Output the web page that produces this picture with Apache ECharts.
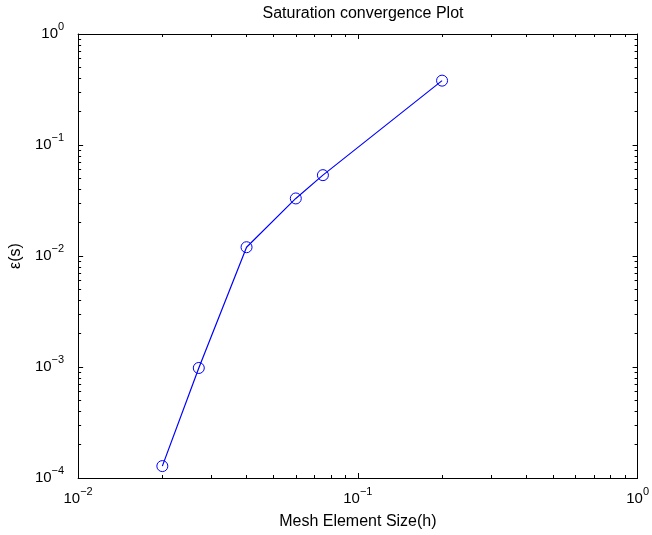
<!DOCTYPE html>
<html>
<head>
<meta charset="utf-8">
<script src="https://cdn.jsdelivr.net/npm/echarts@6/dist/echarts.min.js"></script>
<style>
  html, body { margin: 0; padding: 0; background: #fff; }
  #chart { width: 652px; height: 535px; }
</style>
</head>
<body>
<div id="chart"></div>
<script>
// mesh size h and saturation error
var meshSize = [0.02, 0.027, 0.04, 0.06, 0.075, 0.2];
var satError = [0.000128, 0.00098, 0.012, 0.033, 0.0535, 0.38];

var xMajor = [0.01, 0.1, 1];
var yMajor = [0.0001, 0.001, 0.01, 0.1, 1];

function minorsOf(decades) {
  var out = [];
  for (var i = 0; i < decades.length - 1; i++) {
    for (var k = 2; k <= 9; k++) out.push(+(decades[i] * k).toPrecision(3));
  }
  return out;
}
var xMinor = minorsOf(xMajor);
var yMinor = minorsOf(yMajor);

var font = 'Liberation Sans, Arial, Helvetica, sans-serif';

function expLabel(v) {
  var e = Math.round(Math.log10(v));
  return '{b|10}{s|' + (e < 0 ? '\u2212' + (-e) : e) + '}';
}
var labelRich = {
  b: { fontSize: 15, fontFamily: font, color: '#000', lineHeight: 26 },
  s: { fontSize: 11, fontFamily: font, color: '#000', lineHeight: 12, verticalAlign: 'top' }
};

function makeAxis(pos, extent, major, minor, isMain, isMinor) {
  var ax = {
    type: 'log',
    logBase: 10,
    position: pos,
    min: extent[0],
    max: extent[1],
    splitLine: { show: false },
    minorTick: { show: false },
    axisLine: { show: !isMinor, onZero: false, lineStyle: { color: '#000', width: 1 } },
    axisTick: {
      show: true,
      inside: true,
      length: isMinor ? 3 : 5,
      customValues: isMinor ? minor : major,
      lineStyle: { color: '#000', width: 1 }
    },
    axisLabel: { show: false }
  };
  if (isMain) {
    ax.axisLabel = {
      show: true,
      customValues: major,
      formatter: expLabel,
      rich: labelRich,
      margin: (pos === 'bottom') ? 8 : 14
    };
  }
  return ax;
}

var xExt = [0.01, 1];
var yExt = [0.0001, 1];

var xAxes = [
  makeAxis('bottom', xExt, xMajor, xMinor, true, false),
  makeAxis('bottom', xExt, xMajor, xMinor, false, true),
  makeAxis('top', xExt, xMajor, xMinor, false, false),
  makeAxis('top', xExt, xMajor, xMinor, false, true)
];
xAxes[0].name = 'Mesh Element Size(h)';
xAxes[0].nameLocation = 'middle';
xAxes[0].nameGap = 36;
xAxes[0].nameTextStyle = { fontSize: 16, fontFamily: font, color: '#000' };

var yAxes = [
  makeAxis('left', yExt, yMajor, yMinor, true, false),
  makeAxis('left', yExt, yMajor, yMinor, false, true),
  makeAxis('right', yExt, yMajor, yMinor, false, false),
  makeAxis('right', yExt, yMajor, yMinor, false, true)
];
yAxes[0].name = '\u03b5(s)';
yAxes[0].nameLocation = 'middle';
yAxes[0].nameGap = 46;
yAxes[0].nameTextStyle = { fontSize: 16, fontFamily: font, color: '#000' };

var points = meshSize.map(function (h, i) { return [h, satError[i]]; });

var chart = echarts.init(document.getElementById('chart'));
chart.setOption({
  animation: false,
  backgroundColor: '#fff',
  title: {
    text: 'Saturation convergence Plot',
    left: 358,
    textAlign: 'center',
    top: 1,
    textStyle: { fontSize: 16, fontWeight: 'normal', fontFamily: font, color: '#000' }
  },
  grid: { left: 77, right: 12, top: 34, bottom: 56, containLabel: false },
  xAxis: xAxes,
  yAxis: yAxes,
  series: [
    {
      type: 'line',
      xAxisIndex: 0,
      yAxisIndex: 0,
      data: points,
      symbol: 'none',
      color: '#0000ff',
      lineStyle: { color: '#0000ff', width: 1.2 }
    },
    {
      type: 'scatter',
      xAxisIndex: 0,
      yAxisIndex: 0,
      data: points,
      symbol: 'circle',
      symbolSize: 11,
      itemStyle: { color: 'rgba(255,255,255,0)', borderColor: '#0000ff', borderWidth: 1, opacity: 1 }
    }
  ]
});
</script>
</body>
</html>
